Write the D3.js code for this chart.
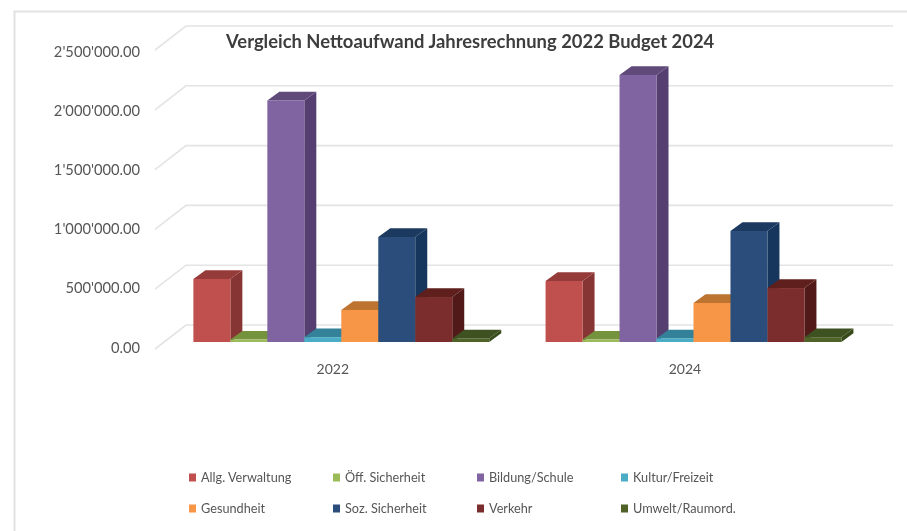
<!DOCTYPE html>
<html><head><meta charset="utf-8">
<script src="https://cdnjs.cloudflare.com/ajax/libs/d3/7.8.5/d3.min.js"></script>
<style>html,body{margin:0;padding:0;background:#fff;overflow:hidden}svg{display:block;filter:blur(.6px)}</style>
</head><body><script>
const years = ["2022","2024"];
const seriesNames = ["Allg. Verwaltung","Öff. Sicherheit","Bildung/Schule","Kultur/Freizeit","Gesundheit","Soz. Sicherheit","Verkehr","Umwelt/Raumord."];
const values2022 = [527000,20000,2020000,40000,268000,878000,376000,30000];
const values2024 = [510000,20000,2233000,30000,326000,928000,451000,40000];
const yTicks = [0,500000,1000000,1500000,2000000,2500000];
const frontColors = ["#c0504d","#9bbb59","#8064a2","#4bacc6","#f79646","#2a4d7c","#7b2c2c","#4f6228"];
const topColors   = ["#953b39","#75923c","#5f4a7a","#34829a","#bd7430","#1c3a5f","#5e1f1d","#3e5120"];
const sideColors  = ["#873534","#6a8535","#553f70","#2e7389","#a96628","#17365d","#511a18","#374a1b"];
const title = "Vergleich Nettoaufwand Jahresrechnung 2022 Budget 2024";

const W=907,H=531, font="Lato, Carlito, 'Open Sans', sans-serif", textCol="#565656";
const svg=d3.select("body").append("svg").attr("width",W).attr("height",H).style("font-family",font);

// frame
svg.append("path").attr("d",`M14.5,${H} V11.5 H${W}`).attr("fill","none").attr("stroke","#e2e2e2").attr("stroke-width",2);

const y=d3.scaleLinear().domain([0,2500000]).range([342,43]);
const yLabel=d3.scaleLinear().domain([0,2500000]).range([352.5,57]);
const x0=d3.scaleBand().domain(years).range([165.2,869.6]).paddingInner(.16).paddingOuter(.08);
const x1=d3.scaleBand().domain(seriesNames).range([0,x0.bandwidth()]);
const wallDx=31, wallDy=24, backOff=17, wallX=155, wallEnd=893;
const barDx=12, barDy=8.7;

// walls / grid
const grid=svg.append("g").attr("fill","none").attr("stroke","#e4e4e4").attr("stroke-width",1.6);
yTicks.forEach(t=>{
  const yb=y(t)-backOff;
  grid.append("path").attr("d",`M${wallX},${yb+wallDy} L${wallX+wallDx},${yb} H${wallEnd}`);
});

// y axis labels
const fmt=v=>d3.format(",.2f")(v).replace(/,/g,"'");
svg.append("g").selectAll("text").data(yTicks).join("text")
  .attr("x",140).attr("y",t=>yLabel(t)).attr("text-anchor","end")
  .attr("font-size",14.7).attr("fill",textCol).text(fmt);

// bars
const valuesByYear={ "2022":values2022, "2024":values2024 };
years.forEach(yr=>{
  const g=svg.append("g");
  seriesNames.forEach((s,i)=>{
    const v=valuesByYear[yr][i], X=x0(yr)+x1(s), w=x1.bandwidth(), T=y(v), B=y(0);
    g.append("path").attr("fill",sideColors[i]).attr("d",`M${X+w},${T} l${barDx},${-barDy} V${B-barDy} L${X+w},${B} Z`);
    g.append("path").attr("fill",topColors[i]).attr("d",`M${X},${T} l${barDx},${-barDy} h${w} l${-barDx},${barDy} Z`);
    g.append("rect").attr("fill",frontColors[i]).attr("x",X).attr("y",T).attr("width",w).attr("height",B-T);
  });
  svg.append("text").attr("x",x0(yr)+x0.bandwidth()/2-8.5).attr("y",374).attr("text-anchor","middle")
    .attr("font-size",14).attr("fill",textCol).text(yr);
});

// title
svg.append("text").attr("x",226).attr("y",48).attr("font-size",18.4).attr("font-weight",700).attr("fill","#3d3d3d").text(title);

// legend
const legendX=d3.scaleBand().domain(d3.range(4)).range([189,765]);
const legendY=d3.scaleBand().domain([0,1]).range([462,524]);
const lg=svg.append("g").selectAll("g").data(seriesNames).join("g")
  .attr("transform",(d,i)=>`translate(${legendX(i%4)},${legendY(Math.floor(i/4))+legendY.bandwidth()/2})`);
lg.append("rect").attr("x",0).attr("y",-4).attr("width",7).attr("height",8).attr("fill",(d,i)=>frontColors[i]);
lg.append("text").attr("x",12).attr("y",4).attr("font-size",12.7).attr("fill",textCol).text(d=>d);
</script></body></html>
